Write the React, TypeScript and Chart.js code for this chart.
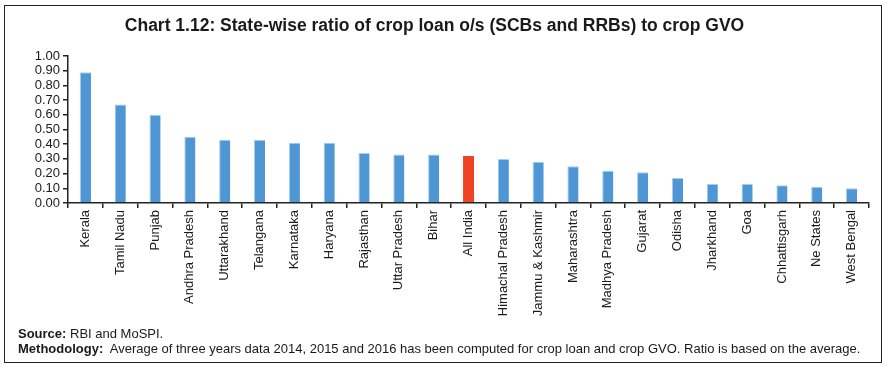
import React, { useEffect, useRef } from "react";
import { Chart, registerables } from "chart.js";

Chart.register(...registerables);

const categories = [
  "Kerala", "Tamil Nadu", "Punjab", "Andhra Pradesh", "Uttarakhand", "Telangana",
  "Karnataka", "Haryana", "Rajasthan", "Uttar Pradesh", "Bihar", "All India",
  "Himachal Pradesh", "Jammu & Kashmir", "Maharashtra", "Madhya Pradesh", "Gujarat",
  "Odisha", "Jharkhand", "Goa", "Chhattisgarh", "Ne States", "West Bengal",
];
const ratios = [
  0.89, 0.67, 0.6, 0.45, 0.43, 0.43, 0.41, 0.41, 0.34, 0.33, 0.33, 0.32,
  0.3, 0.28, 0.25, 0.22, 0.21, 0.17, 0.13, 0.13, 0.12, 0.11, 0.1,
];
const highlightCategory = "All India";
const yMin = 0;
const yMax = 1;
const yStep = 0.1;

const titleText = "Chart 1.12: State-wise ratio of crop loan o/s (SCBs and RRBs) to crop GVO";
const sourceLabel = "Source:";
const sourceText = " RBI and MoSPI.";
const methodLabel = "Methodology:";
const methodText =
  "  Average of three years data 2014, 2015 and 2016 has been computed for crop loan and crop GVO. Ratio is based on the average.";

const BLUE = "#4F96D4";
const RED = "#EF4424";
const AXIS = "#222222";
const FONT = "'Liberation Sans', Arial, sans-serif";

export default function App() {
  const ref = useRef<HTMLCanvasElement | null>(null);

  useEffect(() => {
    if (!ref.current) return;
    const chart = new Chart(ref.current, {
      type: "bar",
      data: {
        labels: categories,
        datasets: [
          {
            data: ratios,
            backgroundColor: categories.map((c) => (c === highlightCategory ? RED : BLUE)),
            borderColor: categories.map((c) => (c === highlightCategory ? RED : "#A8CCEC")),
            borderWidth: { top: 1, left: 1, right: 0, bottom: 0 },
            barPercentage: 0.32,
            categoryPercentage: 1,
          },
        ],
      },
      options: {
        animation: false,
        responsive: false,
        maintainAspectRatio: false,
        layout: { padding: { left: 0, right: 22, top: 0, bottom: 0 } },
        plugins: {
          legend: { display: false },
          tooltip: { enabled: false },
          title: {
            display: true,
            text: titleText,
            color: "#1a1a1a",
            font: { family: FONT, size: 17.5, weight: "bold" },
            padding: { top: 16, bottom: 19 },
          },
        },
        scales: {
          x: {
            offset: true,
            grid: {
              offset: true,
              drawOnChartArea: false,
              drawTicks: true,
              tickLength: 5,
              color: AXIS,
              lineWidth: 1.5,
            },
            border: { display: true, color: AXIS, width: 1.5 },
            ticks: {
              color: "#1a1a1a",
              font: { family: FONT, size: 13 },
              minRotation: 90,
              maxRotation: 90,
              autoSkip: false,
              padding: 2,
            },
            afterFit: (scale: any) => {
              scale.height = 127;
            },
          },
          y: {
            min: yMin,
            max: yMax,
            grid: {
              drawOnChartArea: false,
              drawTicks: true,
              tickLength: 5,
              color: AXIS,
              lineWidth: 1.5,
            },
            border: { display: true, color: AXIS, width: 1.5 },
            ticks: {
              stepSize: yStep,
              autoSkip: false,
              color: "#1a1a1a",
              font: { family: FONT, size: 13 },
              padding: 3,
              callback: (v: any) => Number(v).toFixed(2),
            },
            afterFit: (scale: any) => {
              scale.width = 68;
            },
          },
        },
      },
    });
    return () => chart.destroy();
  }, []);

  return (
    <div style={{ position: "fixed", left: 0, top: 0, width: 891, height: 376, background: "#fff" }}>
      <canvas
        ref={ref}
        width={891}
        height={330}
        style={{ position: "absolute", left: 0, top: 0, width: 891, height: 330 }}
      />
      <div
        style={{
          position: "absolute",
          left: 4,
          top: 5,
          width: 878,
          height: 358,
          border: "1.5px solid #222",
          boxSizing: "border-box",
          pointerEvents: "none",
        }}
      />
      <div
        style={{
          position: "absolute",
          left: 18,
          top: 326,
          fontFamily: FONT,
          fontSize: 13,
          lineHeight: "15px",
          color: "#1a1a1a",
          whiteSpace: "pre",
        }}
      >
        <div>
          <b>{sourceLabel}</b>
          {sourceText}
        </div>
        <div>
          <b>{methodLabel}</b>
          {methodText}
        </div>
      </div>
    </div>
  );
}
